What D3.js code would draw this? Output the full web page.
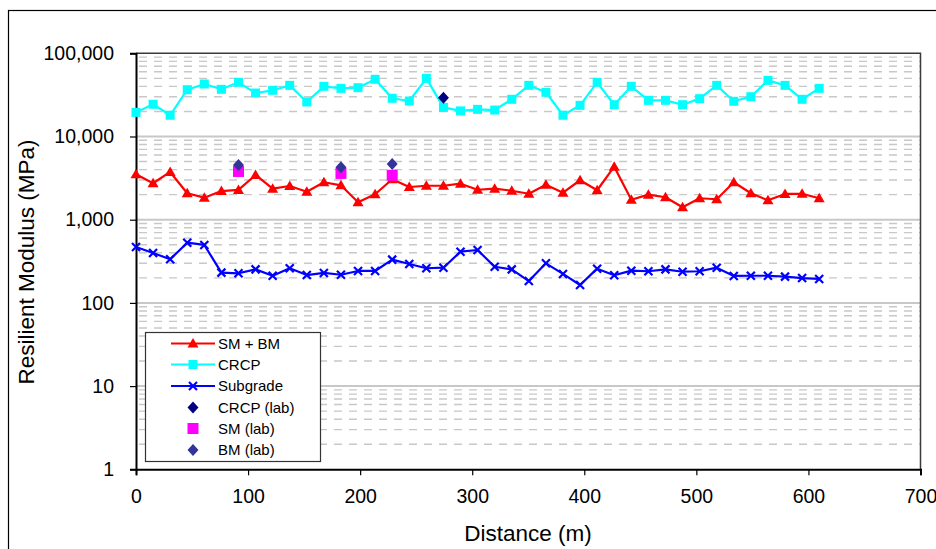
<!DOCTYPE html>
<html>
<head>
<meta charset="utf-8">
<script src="https://cdn.jsdelivr.net/npm/d3@7"></script>
<style>
  html, body { margin: 0; padding: 0; background: #fff; }
  svg { display: block; font-family: "Liberation Sans", Arial, sans-serif; }
</style>
</head>
<body>
<svg id="chart" width="936" height="549"></svg>
<script>
// Station distances along the pavement section (m)
const distance = [0, 15.24, 30.48, 45.72, 60.96, 76.2, 91.44, 106.68, 121.92, 137.16,
  152.4, 167.64, 182.88, 198.12, 213.36, 228.6, 243.84, 259.08, 274.32, 289.56,
  304.8, 320.04, 335.28, 350.52, 365.76, 381, 396.24, 411.48, 426.72, 441.96,
  457.2, 472.44, 487.68, 502.92, 518.16, 533.4, 548.64, 563.88, 579.12, 594.36, 609.6];

// Backcalculated resilient modulus (MPa) per layer
const smbm = [3510, 2740, 3750, 2080, 1840, 2210, 2280, 3450, 2360, 2540,
  2170, 2820, 2590, 1620, 2020, 3060, 2470, 2560, 2560, 2710,
  2290, 2360, 2230, 2050, 2630, 2110, 2980, 2260, 4340, 1740,
  2000, 1860, 1410, 1810, 1760, 2820, 2080, 1710, 2040, 2050, 1810];
const crcp = [19500, 24400, 18000, 36500, 42800, 36900, 44800, 33300, 35900, 41200,
  26000, 40100, 37900, 38600, 48700, 28800, 26700, 50000, 22400, 20300,
  21200, 20800, 28000, 41200, 34000, 18000, 23700, 44800, 24100, 40100,
  27200, 27200, 24100, 28500, 41200, 26500, 30100, 47300, 41200, 28000, 37900];
const subgrade = [470, 398, 334, 529, 497, 231, 227, 253, 212, 261,
  216, 229, 218, 242, 242, 331, 293, 261, 265, 413,
  432, 272, 253, 183, 299, 223, 164, 258, 215, 244,
  240, 253, 237, 240, 265, 211, 212, 212, 207, 199, 194];

// Laboratory results
const crcpLabDist = [274.32];
const crcpLabVal = [29250];
const smLabDist = [91.44, 182.88, 228.6];
const smLabVal = [3800, 3600, 3420];
const bmLabDist = [91.44, 182.88, 228.6];
const bmLabVal = [4550, 4270, 4670];

// Axis ticks
const xTicks = [0, 100, 200, 300, 400, 500, 600, 700];
const yTicks = [1, 10, 100, 1000, 10000, 100000];

const svg = d3.select("#chart");
const L = 136, R = 920.5, T = 53.3, B = 469.3;

const x = d3.scaleLinear().domain([0, 700]).range([L, R]);
const y = d3.scaleLog().domain([1, 100000]).range([B, T]);

// outer chart border
svg.append("rect").attr("x", 8.5).attr("y", 10.5).attr("width", 940).attr("height", 560)
  .attr("fill", "#fff").attr("stroke", "#000").attr("stroke-width", 1.2);

// plot area
svg.append("rect").attr("x", L).attr("y", T).attr("width", R - L).attr("height", B - T)
  .attr("fill", "#fff");

// minor gridlines (dashed)
const minor = [];
for (let d = 0; d < 5; d++) for (let k = 2; k <= 9; k++) minor.push(k * Math.pow(10, d));
svg.append("g").selectAll("line").data(minor).join("line")
  .attr("x1", L).attr("x2", R)
  .attr("y1", d => y(d)).attr("y2", d => y(d))
  .attr("stroke", "#c8c8c8").attr("stroke-width", 1.4)
  .attr("stroke-dasharray", "8,7").attr("stroke-dashoffset", -3);

// major gridlines
svg.append("g").selectAll("line").data(yTicks.slice(1, -1)).join("line")
  .attr("x1", L).attr("x2", R)
  .attr("y1", d => y(d)).attr("y2", d => y(d))
  .attr("stroke", "#c8c8c8").attr("stroke-width", 2);

// frame: top and right
svg.append("path")
  .attr("d", `M${L},${T}H${R}V${B}`)
  .attr("fill", "none").attr("stroke", "#3a3a3a").attr("stroke-width", 1.5);

// y axis
const yAxis = d3.axisLeft(y).tickValues(yTicks).tickFormat(d3.format(",")).tickSize(6).tickPadding(16);
const gy = svg.append("g").attr("transform", `translate(${L},0)`).call(yAxis);
gy.select(".domain").attr("stroke", "#000").attr("stroke-width", 2);
gy.selectAll(".tick line").attr("stroke", "#000").attr("stroke-width", 1.2);
gy.selectAll(".tick text").attr("font-size", 19.5).attr("fill", "#000")
  .attr("font-family", "Liberation Sans, Arial, sans-serif");

// x axis
const xAxis = d3.axisBottom(x).tickValues(xTicks).tickFormat(d3.format("d")).tickSize(6).tickPadding(14);
const gx = svg.append("g").attr("transform", `translate(0,${B})`).call(xAxis);
gx.select(".domain").attr("stroke", "#000").attr("stroke-width", 2);
gx.selectAll(".tick line").attr("stroke", "#000").attr("stroke-width", 1.2);
gx.selectAll(".tick text").attr("font-size", 19.5).attr("fill", "#000")
  .attr("font-family", "Liberation Sans, Arial, sans-serif");

// axis titles
svg.append("text").attr("x", 528).attr("y", 541).attr("text-anchor", "middle")
  .attr("font-size", 22.5).text("Distance (m)");
svg.append("text").attr("transform", "translate(34,262) rotate(-90)")
  .attr("text-anchor", "middle").attr("font-size", 22.5).text("Resilient Modulus (MPa)");

// marker shapes
const shapes = {
  triangle: "M0,-5.5L5.5,4L-5.5,4Z",
  square: "M-4.5,-4.5H4.5V4.5H-4.5Z",
  bigSquare: "M-5.5,-5.5H5.5V5.5H-5.5Z",
  diamond: "M0,-6L5.5,0L0,6L-5.5,0Z",
  cross: "M-4,-4L4,4M-4,4L4,-4"
};

const series = [
  { name: "SM + BM", values: smbm, color: "#ff0000", marker: "triangle" },
  { name: "CRCP", values: crcp, color: "#00ffff", marker: "square" },
  { name: "Subgrade", values: subgrade, color: "#0000ff", marker: "cross" }
];

const line = d3.line().x(d => x(d[0])).y(d => y(d[1]));

function drawMarker(g, shape, color) {
  const p = g.append("path").attr("d", shapes[shape]);
  if (shape === "cross") p.attr("fill", "none").attr("stroke", color).attr("stroke-width", 2.2);
  else p.attr("fill", color);
  return p;
}

series.forEach(s => {
  const pts = distance.map((d, i) => [d, s.values[i]]);
  svg.append("path").datum(pts).attr("d", line)
    .attr("fill", "none").attr("stroke", s.color).attr("stroke-width", 2.2)
    .attr("stroke-linejoin", "round");
  const g = svg.append("g");
  pts.forEach(p => {
    const m = g.append("g").attr("transform", `translate(${x(p[0])},${y(p[1])})`);
    drawMarker(m, s.marker, s.color);
  });
});

// laboratory points
const labs = [
  { name: "CRCP (lab)", dist: crcpLabDist, values: crcpLabVal, color: "#000080", marker: "diamond" },
  { name: "SM (lab)", dist: smLabDist, values: smLabVal, color: "#ff00ff", marker: "bigSquare" },
  { name: "BM (lab)", dist: bmLabDist, values: bmLabVal, color: "#333399", marker: "diamond" }
];
labs.forEach(s => {
  s.dist.forEach((d, i) => {
    const m = svg.append("g").attr("transform", `translate(${x(d)},${y(s.values[i])})`);
    drawMarker(m, s.marker, s.color);
  });
});

// legend
const lg = svg.append("g");
lg.append("rect").attr("x", 145.5).attr("y", 332.5).attr("width", 175).attr("height", 129)
  .attr("fill", "#fff").attr("stroke", "#333").attr("stroke-width", 1.2);
const rowsY = [343.5, 364.5, 386, 407.5, 428.5, 450];
[...series, ...labs].forEach((s, i) => {
  const yy = rowsY[i];
  if (s.values.length === distance.length) {
    lg.append("line").attr("x1", 171).attr("x2", 215).attr("y1", yy).attr("y2", yy)
      .attr("stroke", s.color).attr("stroke-width", 2.2);
  }
  const m = lg.append("g").attr("transform", `translate(193,${yy})`);
  drawMarker(m, s.marker, s.color);
  lg.append("text").attr("x", 218).attr("y", yy).attr("dy", "0.36em")
    .attr("font-size", 15).text(s.name);
});
</script>
</body>
</html>
